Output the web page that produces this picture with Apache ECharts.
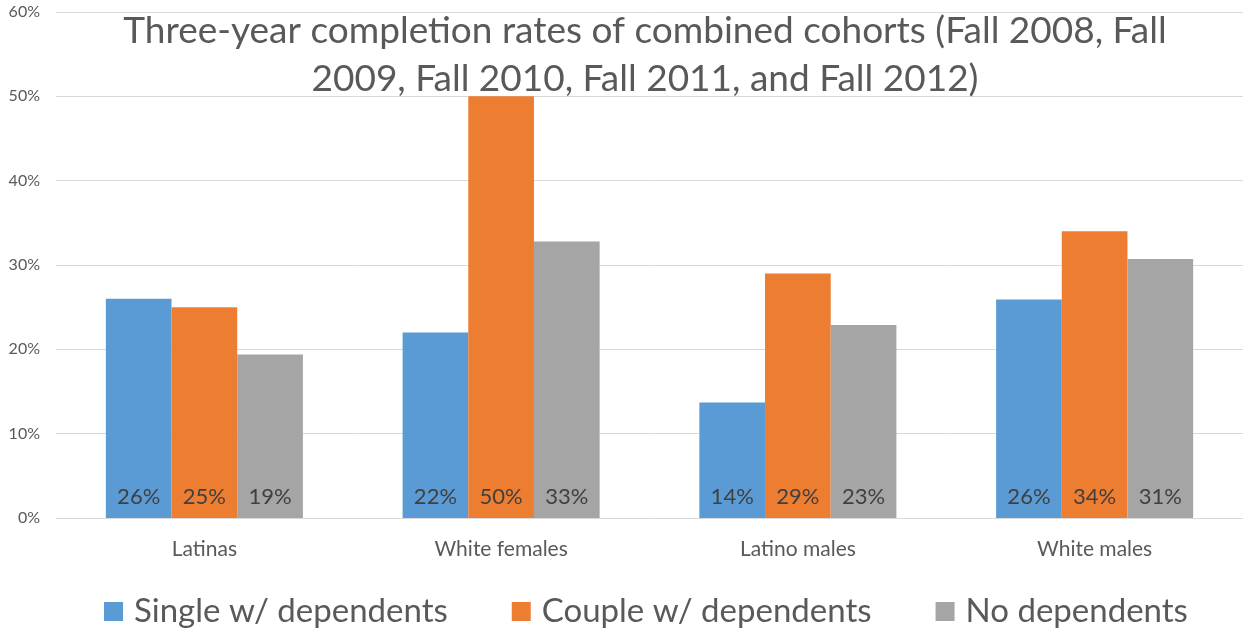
<!DOCTYPE html>
<html>
<head>
<meta charset="utf-8">
<script src="https://cdn.jsdelivr.net/npm/echarts@6/dist/echarts.min.js"></script>
<style>
  html, body { margin: 0; padding: 0; background: #fff; }
  #chart { width: 1243px; height: 635px; }
</style>
</head>
<body>
<div id="chart"></div>
<script>
// groups along the x axis
var categories = ['Latinas', 'White females', 'Latino males', 'White males'];
// completion rates in percent
var singleDependents = [26.0, 22.0, 13.7, 25.9];
var coupleDependents = [25.0, 50.0, 29.0, 34.0];
var noDependents = [19.4, 32.8, 22.9, 30.7];
var seriesNames = ['Single w/ dependents', 'Couple w/ dependents', 'No dependents'];
var yTicks = { min: 0, max: 60, interval: 10 };

var fontFamily = 'Lato, "Open Sans", sans-serif';

function barSeries(name, data, color) {
  return {
    name: name,
    type: 'bar',
    data: data,
    barGap: '0%',
    barCategoryGap: '33.6%',
    itemStyle: { color: color },
    label: {
      show: true,
      position: 'insideBottom',
      distance: 10,
      color: '#404040',
      fontSize: 22,
      fontFamily: fontFamily,
      formatter: function (p) { return Math.round(p.value) + '%'; }
    }
  };
}

var chart = echarts.init(document.getElementById('chart'));
chart.setOption({
  animation: false,
  title: {
    text: 'Three-year completion rates of combined cohorts (Fall 2008, Fall\n2009, Fall 2010, Fall 2011, and Fall 2012)',
    left: 640,
    top: 2,
    textAlign: 'center',
    textStyle: {
      color: '#595959',
      fontSize: 37,
      fontWeight: 'normal',
      fontFamily: fontFamily,
      lineHeight: 48
    }
  },
  legend: {
    bottom: 2,
    left: 99,
    icon: 'rect',
    itemWidth: 19,
    itemHeight: 19,
    itemGap: 64,
    textStyle: { color: '#595959', fontSize: 33, fontFamily: fontFamily, padding: [0, 0, 0, 6] },
    data: seriesNames
  },
  grid: { left: 56, right: 0, top: 12, bottom: 117 },
  xAxis: {
    type: 'category',
    data: categories,
    axisLine: { lineStyle: { color: '#D9D9D9', width: 1 } },
    axisTick: { show: false },
    axisLabel: { color: '#595959', fontSize: 21, fontFamily: fontFamily, margin: 21 }
  },
  yAxis: {
    type: 'value',
    min: yTicks.min,
    max: yTicks.max,
    interval: yTicks.interval,
    axisLine: { show: false },
    axisTick: { show: false },
    splitLine: { lineStyle: { color: '#D9D9D9' } },
    axisLabel: { color: '#595959', fontSize: 16, fontFamily: fontFamily, margin: 16, formatter: '{value}%' }
  },
  series: [
    barSeries(seriesNames[0], singleDependents, '#5B9BD5'),
    barSeries(seriesNames[1], coupleDependents, '#ED7D31'),
    barSeries(seriesNames[2], noDependents, '#A5A5A5')
  ]
});
</script>
</body>
</html>
